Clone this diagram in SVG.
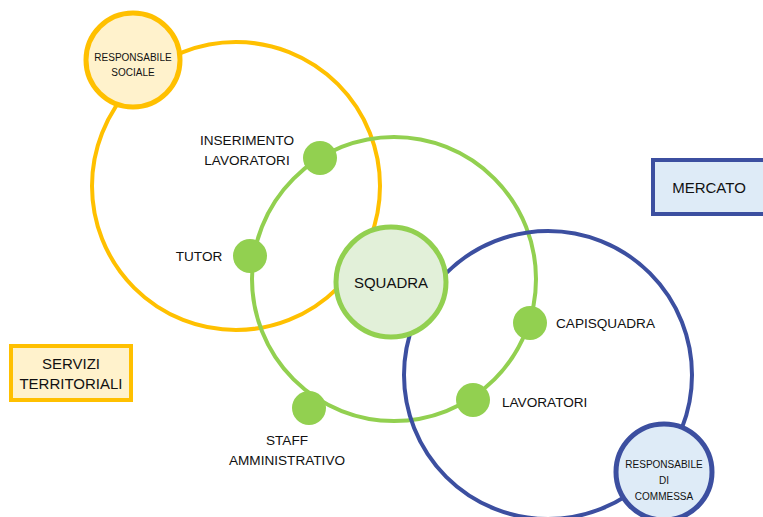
<svg xmlns="http://www.w3.org/2000/svg" width="763" height="517" viewBox="0 0 763 517">
<style>
text{font-family:"Liberation Sans",Arial,sans-serif;fill:#111;text-anchor:middle;}
.big{fill:none;stroke-width:4;}
.y{stroke:#FFC000;}
.g{stroke:#92D050;}
.b{stroke:#3C4FA0;}
.dot{fill:#92D050;}
.lbl{font-size:13.6px;}
.sm{font-size:10px;}
.md{font-size:15px;}
</style>
<rect width="763" height="517" fill="#fff"/>
<g id="connectors">
<circle class="big y" cx="236" cy="186" r="144"/>
<circle class="big g" cx="394" cy="279" r="142"/>
<circle class="big b" cx="548" cy="375" r="144"/>
</g>
<g id="responsabile-sociale">
<circle cx="133" cy="60" r="47" fill="#FFF2CC" stroke="#FFC000" stroke-width="5"/>
<text class="sm" x="133" y="61">RESPONSABILE</text>
<text class="sm" x="133" y="76">SOCIALE</text>
</g>
<g id="squadra">
<circle cx="391" cy="282" r="55" fill="#E2F0D9" stroke="#92D050" stroke-width="5"/>
<text class="md" x="391" y="288">SQUADRA</text>
</g>
<g id="responsabile-commessa">
<circle cx="664" cy="472" r="48" fill="#DEEBF7" stroke="#3C4FA0" stroke-width="5"/>
<text class="sm" x="664" y="468">RESPONSABILE</text>
<text class="sm" x="664" y="484">DI</text>
<text class="sm" x="664" y="500">COMMESSA</text>
</g>
<g id="inserimento">
<circle class="dot" cx="320" cy="158" r="17"/>
<text class="lbl" x="247" y="145">INSERIMENTO</text>
<text class="lbl" x="247" y="165">LAVORATORI</text>
</g>
<g id="tutor">
<circle class="dot" cx="250" cy="256" r="17"/>
<text class="lbl" x="199" y="261">TUTOR</text>
</g>
<g id="capisquadra">
<circle class="dot" cx="530" cy="323" r="17"/>
<text class="lbl" x="556" y="328" style="text-anchor:start">CAPISQUADRA</text>
</g>
<g id="lavoratori">
<circle class="dot" cx="473" cy="400" r="17"/>
<text class="lbl" x="502" y="407" style="text-anchor:start">LAVORATORI</text>
</g>
<g id="staff">
<circle class="dot" cx="309" cy="408" r="17"/>
<text class="lbl" x="287" y="445">STAFF</text>
<text class="lbl" x="287" y="465">AMMINISTRATIVO</text>
</g>
<g id="mercato">
<rect x="653" y="160" width="112" height="54" fill="#DEEBF7" stroke="#3C4FA0" stroke-width="4"/>
<text class="md" x="709" y="193">MERCATO</text>
</g>
<g id="servizi">
<rect x="11" y="346" width="120" height="54" fill="#FFF2CC" stroke="#FFC000" stroke-width="4"/>
<text class="md" x="71" y="369">SERVIZI</text>
<text class="md" x="71" y="389">TERRITORIALI</text>
</g>
</svg>
